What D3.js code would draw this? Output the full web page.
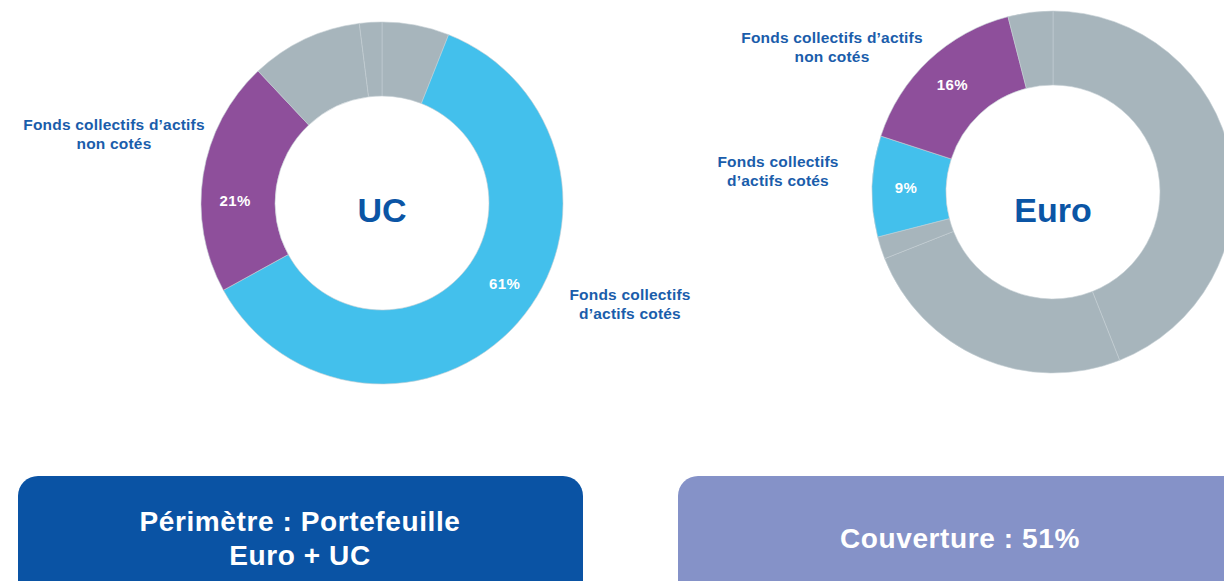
<!DOCTYPE html>
<html>
<head>
<meta charset="utf-8">
<script src="https://cdn.jsdelivr.net/npm/d3@7"></script>
<style>
  body { margin: 0; background: #fff; }
  text { font-family: "Liberation Sans", Arial, sans-serif; font-weight: bold; }
</style>
</head>
<body>
<div id="container"></div>
<script>
/* DATA */
const categories = ["Autres", "Fonds collectifs d’actifs cotés", "Fonds collectifs d’actifs non cotés"];

// UC portfolio, clockwise from 12 o'clock
const ucCategories = ["Autres", "Fonds collectifs d’actifs cotés", "Fonds collectifs d’actifs non cotés", "Autres", "Autres"];
const ucValues = [6, 61, 21, 10, 2];

// Euro portfolio, clockwise from 12 o'clock
const euroCategories = ["Autres", "Autres", "Autres", "Fonds collectifs d’actifs cotés", "Fonds collectifs d’actifs non cotés", "Autres"];
const euroValues = [44, 25, 2, 9, 16, 4];

const shownLabels = ["Fonds collectifs d’actifs cotés", "Fonds collectifs d’actifs non cotés"];

const boxTexts = [["Périmètre : Portefeuille", "Euro + UC"], ["Couverture : 51%"]];

/* CONSTANTS */
const width = 1224, height = 581;
const outerR = 181, innerR = 107;
const textBlue = "#0b55a5";

const color = d3.scaleOrdinal()
  .domain(categories)
  .range(["#a7b5bc", "#43c0ec", "#8e4f9b"]);

const svg = d3.select("#container")
  .append("svg")
  .attr("width", width)
  .attr("height", height);

const pie = d3.pie().sort(null).value(d => d.value);
const arc = d3.arc().innerRadius(innerR).outerRadius(outerR);
const labelR = (innerR + outerR) / 2 + 3;

function donut(cx, cy, cats, vals, title, titleY, labelShift) {
  const data = vals.map((v, i) => ({ cat: cats[i], value: v }));
  const g = svg.append("g").attr("transform", `translate(${cx},${cy})`);

  g.selectAll("path")
    .data(pie(data))
    .join("path")
    .attr("d", arc)
    .attr("fill", d => color(d.data.cat))
    .attr("stroke", "#c4ced3")
    .attr("stroke-width", 0.6);

  // percentage labels (angle nudged a bit like the original layout)
  g.selectAll("text.pct")
    .data(pie(data).filter(d => shownLabels.includes(d.data.cat)))
    .join("text")
    .attr("class", "pct")
    .attr("transform", d => {
      const a = (d.startAngle + d.endAngle) / 2 + labelShift * Math.PI / 180;
      return `translate(${labelR * Math.sin(a)},${-labelR * Math.cos(a)})`;
    })
    .attr("text-anchor", "middle")
    .attr("dominant-baseline", "central")
    .attr("fill", "#fff")
    .attr("font-size", 15)
    .attr("letter-spacing", 0.4)
    .text(d => d.data.value + "%");

  g.append("text")
    .attr("text-anchor", "middle")
    .attr("dominant-baseline", "central")
    .attr("y", titleY)
    .attr("fill", textBlue)
    .attr("font-size", 34)
    .text(title);
  return g;
}

donut(382, 203, ucCategories, ucValues, "UC", 7, -8);
donut(1053, 192, euroCategories, euroValues, "Euro", 18, 0);

// category annotations
function note(x, y, lines) {
  const t = svg.append("text")
    .attr("text-anchor", "middle")
    .attr("fill", "#1a5dab")
    .attr("font-size", 15.5)
    .attr("letter-spacing", 0.2);
  lines.forEach((l, i) => {
    t.append("tspan").attr("x", x).attr("y", y + i * 19).text(l);
  });
}
note(114, 130, ["Fonds collectifs d’actifs", "non cotés"]);
note(630, 300, ["Fonds collectifs", "d’actifs cotés"]);
note(832, 43, ["Fonds collectifs d’actifs", "non cotés"]);
note(778, 167, ["Fonds collectifs", "d’actifs cotés"]);

// bottom boxes
const boxes = [
  { x: 18, w: 565, fill: "#0a53a4", lines: boxTexts[0], tx: 300 },
  { x: 678, w: 600, fill: "#8592c8", lines: boxTexts[1], tx: 960 }
];
boxes.forEach(b => {
  svg.append("rect")
    .attr("x", b.x).attr("y", 476)
    .attr("width", b.w).attr("height", 140)
    .attr("rx", 20)
    .attr("fill", b.fill);
  const t = svg.append("text")
    .attr("text-anchor", "middle")
    .attr("fill", "#fff")
    .attr("font-size", 28)
    .attr("letter-spacing", 0.6);
  const n = b.lines.length;
  b.lines.forEach((l, i) => {
    t.append("tspan")
      .attr("x", b.tx)
      .attr("y", 548 + (i - (n - 1) / 2) * 34)
      .text(l);
  });
});
</script>
</body>
</html>
